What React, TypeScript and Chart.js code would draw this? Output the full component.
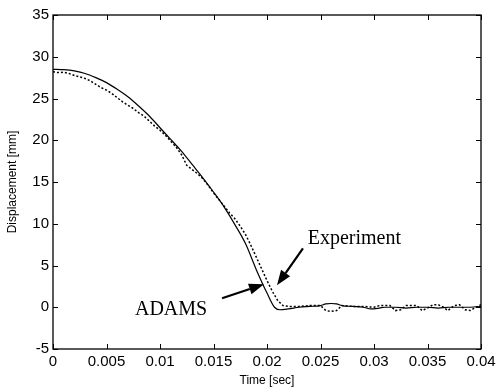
import React, { useEffect, useRef } from "react";
import { Chart, registerables } from "chart.js";

Chart.register(...registerables);

// ---- data ----
const adamsTime = [0, 0.001, 0.002, 0.003, 0.004, 0.005, 0.006, 0.007, 0.008, 0.009, 0.01, 0.011, 0.012, 0.013, 0.014, 0.015, 0.016, 0.017, 0.018, 0.019, 0.02, 0.0207, 0.0212, 0.022, 0.023, 0.024, 0.025, 0.0255, 0.026, 0.0265, 0.027, 0.028, 0.029, 0.0297, 0.0305, 0.031, 0.032, 0.033, 0.034, 0.035, 0.036, 0.037, 0.038, 0.039, 0.04];
const adamsDisp = [28.5, 28.45, 28.3, 28.0, 27.5, 26.9, 26.1, 25.2, 24.1, 22.9, 21.5, 20.1, 18.7, 17.1, 15.5, 13.8, 12.0, 9.9, 7.6, 4.5, 1.7, 0.0, -0.3, -0.2, 0.0, 0.1, 0.2, 0.4, 0.45, 0.4, 0.2, 0.1, 0.0, -0.2, -0.1, 0.0, 0.0, -0.1, 0.0, 0.0, -0.1, 0.0, 0.0, 0.0, 0.1];

const expTime = [0, 0.0005, 0.001, 0.0015, 0.002, 0.0025, 0.003, 0.0035, 0.004, 0.0045, 0.005, 0.0055, 0.006, 0.0065, 0.007, 0.0075, 0.008, 0.0085, 0.009, 0.0095, 0.01, 0.0105, 0.011, 0.0115, 0.012, 0.0125, 0.013, 0.0135, 0.014, 0.0145, 0.015, 0.0155, 0.016, 0.0165, 0.017, 0.0175, 0.018, 0.0185, 0.019, 0.0195, 0.02, 0.0205, 0.021, 0.0215, 0.022, 0.0225, 0.023, 0.024, 0.025, 0.0255, 0.026, 0.0265, 0.027, 0.028, 0.029, 0.03, 0.0305, 0.0315, 0.032, 0.0325, 0.033, 0.034, 0.0345, 0.035, 0.0355, 0.036, 0.0365, 0.0369, 0.0375, 0.038, 0.0385, 0.039, 0.0395, 0.04];
const expDisp = [28.2, 28.1, 28.15, 28.0, 27.75, 27.6, 27.4, 27.1, 26.7, 26.3, 26.0, 25.6, 25.1, 24.6, 24.2, 23.8, 23.3, 22.9, 22.3, 21.7, 21.2, 20.6, 19.9, 19.2, 18.3, 17.0, 16.5, 16.0, 15.4, 14.6, 13.7, 12.9, 12.1, 11.3, 10.6, 9.7, 8.7, 7.4, 6.0, 4.6, 3.2, 1.9, 0.8, 0.2, 0.1, 0.1, 0.1, 0.2, 0.2, -0.4, -0.5, -0.4, 0.2, 0.1, 0.1, 0.0, 0.2, 0.2, -0.4, -0.3, 0.2, 0.2, -0.4, -0.1, 0.3, 0.3, 0.0, -0.4, 0.2, 0.3, -0.3, -0.4, 0.0, 0.3];

const xTicks = [0, 0.005, 0.01, 0.015, 0.02, 0.025, 0.03, 0.035, 0.04];
const xTickLabels = ["0", "0.005", "0.01", "0.015", "0.02", "0.025", "0.03", "0.035", "0.04"];
const yTicks = [-5, 0, 5, 10, 15, 20, 25, 30, 35];
const yTickLabels = ["-5", "0", "5", "10", "15", "20", "25", "30", "35"];

const xTitle = "Time [sec]";
const yTitle = "Displacement [mm]";

// annotations (data coordinates)
const annotationTexts = ["Experiment", "ADAMS"];
const annotationAt = [[0.0238, 8.25], [0.00766, -0.24]];
const arrowFrom = [[0.02336, 7.06], [0.0158, 1.08]];
const arrowTo = [[0.02093, 2.63], [0.01972, 2.75]];

const SANS = '"Liberation Sans", Arial, sans-serif';
const SERIF = '"Liberation Serif", "Times New Roman", serif';

const framePlugin = {
  id: "frame",
  afterDatasetsDraw(chart: any) {
    const { ctx, chartArea: a, scales } = chart;
    const xs = scales.x;
    const ys = scales.y;
    ctx.save();
    ctx.strokeStyle = "#000";
    ctx.lineWidth = 1.3;
    ctx.strokeRect(a.left, a.top, a.right - a.left, a.bottom - a.top);
    const L = 5;
    ctx.beginPath();
    xTicks.forEach((v) => {
      const px = Math.round(xs.getPixelForValue(v)) + 0.5;
      ctx.moveTo(px, a.bottom);
      ctx.lineTo(px, a.bottom - L);
      ctx.moveTo(px, a.top);
      ctx.lineTo(px, a.top + L);
    });
    yTicks.forEach((v) => {
      const py = Math.round(ys.getPixelForValue(v)) + 0.5;
      ctx.moveTo(a.left, py);
      ctx.lineTo(a.left + L, py);
      ctx.moveTo(a.right, py);
      ctx.lineTo(a.right - L, py);
    });
    ctx.lineWidth = 1;
    ctx.stroke();

    // annotation texts
    ctx.fillStyle = "#000";
    ctx.font = `20px ${SERIF}`;
    ctx.textAlign = "left";
    ctx.textBaseline = "middle";
    annotationTexts.forEach((t, i) => {
      ctx.fillText(t, xs.getPixelForValue(annotationAt[i][0]), ys.getPixelForValue(annotationAt[i][1]));
    });

    // arrows
    arrowFrom.forEach((f, i) => {
      const x0 = xs.getPixelForValue(f[0]);
      const y0 = ys.getPixelForValue(f[1]);
      const x1 = xs.getPixelForValue(arrowTo[i][0]);
      const y1 = ys.getPixelForValue(arrowTo[i][1]);
      const ang = Math.atan2(y1 - y0, x1 - x0);
      const hl = 15;
      const hw = 5.5;
      const bx = x1 - hl * Math.cos(ang);
      const by = y1 - hl * Math.sin(ang);
      ctx.beginPath();
      ctx.lineWidth = 2.2;
      ctx.moveTo(x0, y0);
      ctx.lineTo(bx, by);
      ctx.stroke();
      ctx.beginPath();
      ctx.moveTo(x1, y1);
      ctx.lineTo(bx + hw * Math.sin(ang), by - hw * Math.cos(ang));
      ctx.lineTo(bx - hw * Math.sin(ang), by + hw * Math.cos(ang));
      ctx.closePath();
      ctx.fill();
    });
    ctx.restore();
  },
};

export default function App() {
  const ref = useRef<HTMLCanvasElement | null>(null);
  useEffect(() => {
    if (!ref.current) return;
    const chart = new Chart(ref.current, {
      type: "line",
      data: {
        datasets: [
          {
            label: "Experiment",
            data: expTime.map((t, i) => ({ x: t, y: expDisp[i] })),
            borderColor: "#000",
            borderWidth: 1.5,
            borderDash: [2, 2],
            pointRadius: 0,
            tension: 0,
            fill: false,
          },
          {
            label: "ADAMS",
            data: adamsTime.map((t, i) => ({ x: t, y: adamsDisp[i] })),
            borderColor: "#000",
            borderWidth: 1.2,
            pointRadius: 0,
            cubicInterpolationMode: "monotone",
            fill: false,
          },
        ],
      },
      options: {
        animation: false,
        responsive: false,
        maintainAspectRatio: false,
        layout: { padding: { top: 15, right: 22, left: 0, bottom: 0 } },
        plugins: { legend: { display: false }, tooltip: { enabled: false } },
        scales: {
          x: {
            type: "linear",
            min: 0,
            max: 0.04,
            afterBuildTicks: (s: any) => {
              s.ticks = xTicks.map((v) => ({ value: v }));
            },
            afterFit: (s: any) => {
              s.height = 41;
            },
            ticks: {
              autoSkip: false,
              maxRotation: 0,
              color: "#000",
              padding: 4,
              font: { family: SANS, size: 15 },
              callback: (_v: any, i: number) => xTickLabels[i],
            },
            grid: { display: false, drawTicks: false },
            border: { display: false },
            title: {
              display: true,
              text: xTitle,
              color: "#000",
              font: { family: SANS, size: 12 },
              padding: 2,
            },
          },
          y: {
            type: "linear",
            min: -5,
            max: 35,
            afterBuildTicks: (s: any) => {
              s.ticks = yTicks.map((v) => ({ value: v }));
            },
            afterFit: (s: any) => {
              s.width = 53;
            },
            ticks: {
              autoSkip: false,
              color: "#000",
              padding: 4,
              font: { family: SANS, size: 15 },
              callback: (_v: any, i: number) => yTickLabels[i],
            },
            grid: { display: false, drawTicks: false },
            border: { display: false },
            title: {
              display: true,
              text: yTitle,
              color: "#000",
              font: { family: SANS, size: 12 },
              padding: 5,
            },
          },
        },
      },
      plugins: [framePlugin],
    } as any);
    return () => chart.destroy();
  }, []);
  return (
    <div style={{ position: "absolute", left: 0, top: 0, width: 503, height: 390, background: "#fff" }}>
      <canvas ref={ref} width={503} height={390} style={{ display: "block" }} />
    </div>
  );
}
